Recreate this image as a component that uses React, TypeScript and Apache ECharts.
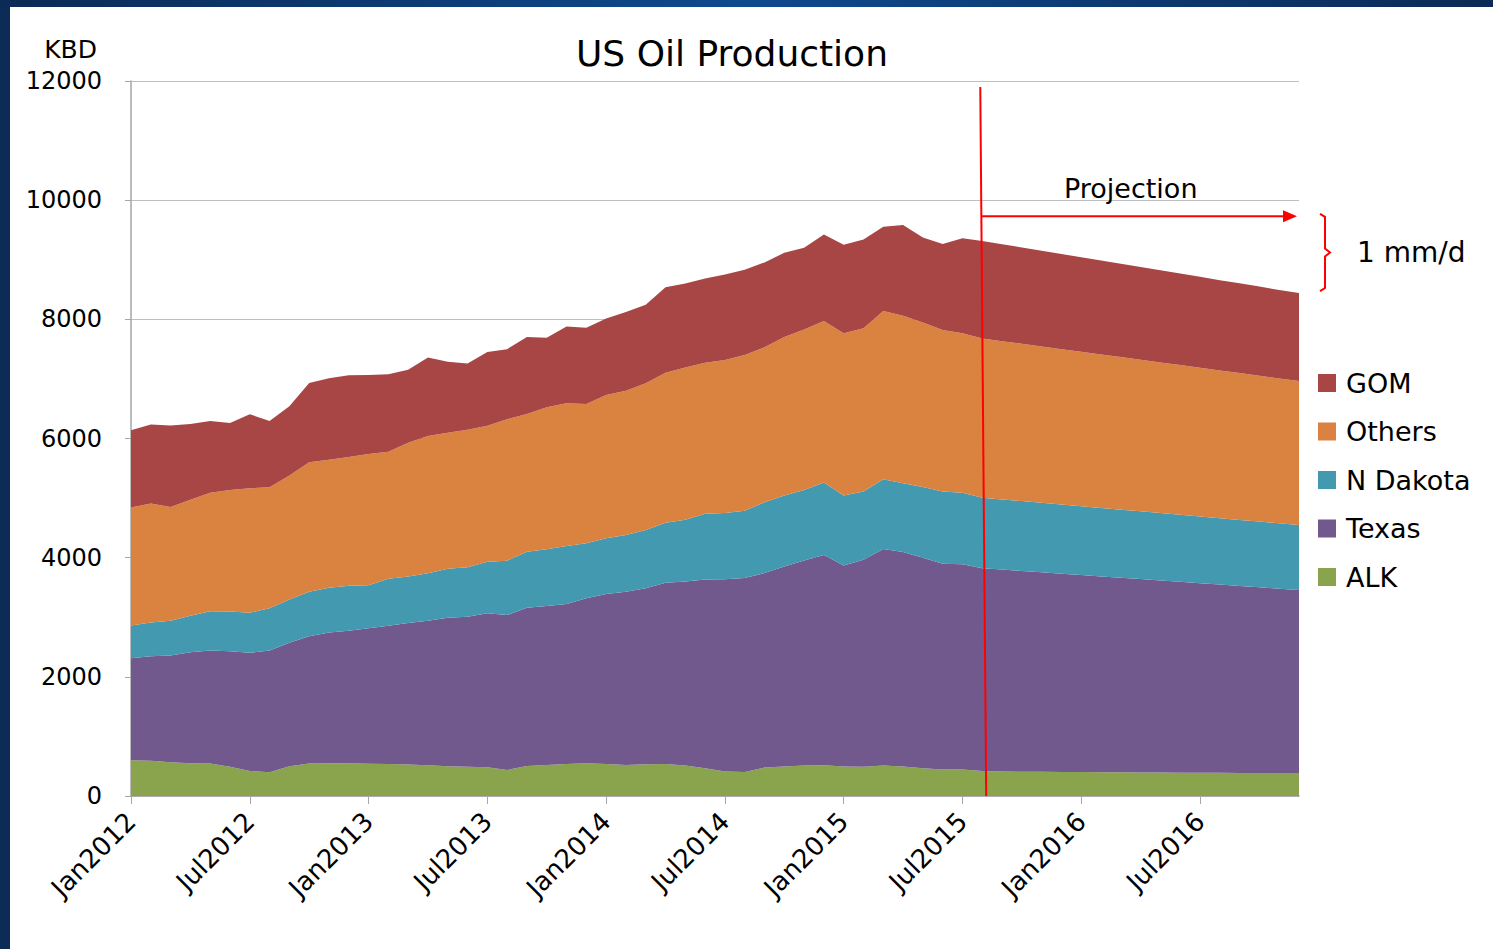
import React, { useEffect, useRef } from "react";
import * as echarts from "echarts";

const MONTH_NAMES = ["Jan", "Feb", "Mar", "Apr", "May", "Jun", "Jul", "Aug", "Sep", "Oct", "Nov", "Dec"];
const YEARS = [2012, 2013, 2014, 2015, 2016];
const categories: string[] = [];
YEARS.forEach((y) => MONTH_NAMES.forEach((m) => categories.push(m + y)));

// KBD, Jan2012 .. Dec2016 (projection from Aug2015)
const ALK = [
  600, 590, 568, 550, 545, 492, 420, 400, 500, 545, 550, 550,
  541, 535, 530, 518, 500, 490, 481, 436, 503, 520, 537, 548,
  537, 520, 531, 537, 512, 465, 413, 401, 478, 497, 510, 517,
  497, 490, 510, 497, 465, 445, 445, 420, 410, 408, 406, 404,
  402, 400, 398, 396, 394, 392, 390, 389, 388, 387, 386, 385,
];
const TEXAS = [
  1710, 1755, 1790, 1862, 1895, 1936, 1983, 2040, 2073, 2137, 2196, 2222,
  2274, 2324, 2373, 2422, 2492, 2520, 2585, 2602, 2658, 2669, 2685, 2770,
  2853, 2909, 2954, 3043, 3086, 3167, 3224, 3256, 3263, 3353, 3442, 3526,
  3372, 3476, 3636, 3597, 3533, 3455, 3444, 3403, 3390, 3369, 3348, 3327,
  3306, 3286, 3265, 3244, 3223, 3202, 3181, 3159, 3138, 3116, 3094, 3072,
];
const N_DAKOTA = [
  550, 565, 582, 613, 660, 668, 673, 710, 725, 748, 749, 758,
  721, 787, 782, 800, 824, 830, 867, 912, 940, 951, 974, 923,
  935, 951, 979, 1007, 1037, 1104, 1112, 1131, 1188, 1194, 1182, 1220,
  1175, 1143, 1168, 1156, 1188, 1209, 1200, 1183, 1177, 1172, 1166, 1161,
  1155, 1149, 1143, 1137, 1132, 1126, 1121, 1115, 1108, 1103, 1097, 1091,
];
const OTHERS = [
  1980, 2000, 1912, 1945, 1990, 2041, 2087, 2033, 2082, 2170, 2150, 2160,
  2202, 2132, 2245, 2300, 2281, 2305, 2282, 2372, 2310, 2383, 2394, 2338,
  2405, 2422, 2462, 2517, 2555, 2536, 2569, 2613, 2601, 2659, 2697, 2709,
  2723, 2742, 2826, 2812, 2761, 2710, 2678, 2672, 2656, 2640, 2624, 2608,
  2592, 2575, 2560, 2544, 2528, 2512, 2496, 2480, 2464, 2448, 2432, 2417,
];
const GOM = [
  1300, 1325, 1368, 1275, 1205, 1123, 1245, 1109, 1160, 1330, 1367, 1370,
  1328, 1300, 1225, 1320, 1193, 1115, 1235, 1178, 1294, 1167, 1290, 1281,
  1285, 1323, 1320, 1433, 1413, 1414, 1433, 1432, 1425, 1414, 1369, 1453,
  1484, 1490, 1413, 1523, 1426, 1445, 1593, 1637, 1627, 1617, 1607, 1596,
  1586, 1577, 1566, 1556, 1545, 1536, 1525, 1515, 1506, 1495, 1485, 1475,
];

const SERIES_NAMES = ["ALK", "Texas", "N Dakota", "Others", "GOM"];
const SERIES_DATA = [ALK, TEXAS, N_DAKOTA, OTHERS, GOM];
const SERIES_COLORS = ["#8aa44e", "#72598d", "#4399b0", "#da8340", "#a84646"];
const LEGEND_ORDER = ["GOM", "Others", "N Dakota", "Texas", "ALK"];

const Y_MIN = 0;
const Y_MAX = 12000;
const Y_STEP = 2000;

// annotation anchors (category index, value)
const PROJ_LINE = { topIdx: 42.9, topVal: 11900, botIdx: 43.2, botVal: 0 };
const PROJ_ARROW = { fromIdx: 42.95, toIdx: 58.9, val: 9730 };
const PROJ_TEXT = { idx: 50.5, val: 10190, text: "Projection" };
const BRACKET = { topVal: 9770, botVal: 8475, text: "1 mm/d" };

const FONT = "DejaVu Sans";

export default function App() {
  const ref = useRef<HTMLDivElement>(null);
  useEffect(() => {
    const chart = echarts.init(ref.current!, null, { renderer: "svg" });
    chart.setOption({
      animation: false,
      backgroundColor: "#ffffff",
      title: {
        text: "US Oil Production",
        left: 576,
        top: 35,
        padding: 0,
        textStyle: { fontFamily: FONT, fontSize: 36, fontWeight: "normal", color: "#000" },
      },
      grid: { left: 131, right: 194, top: 81, bottom: 153, containLabel: false },
      legend: {
        orient: "vertical",
        left: 1318,
        top: 368,
        padding: 0,
        data: LEGEND_ORDER,
        icon: "rect",
        itemWidth: 18,
        itemHeight: 18,
        itemGap: 18.5,
        textStyle: { fontFamily: FONT, fontSize: 27, color: "#000", lineHeight: 30, padding: [0, 0, 0, 5] },
      },
      xAxis: {
        type: "category",
        data: categories,
        boundaryGap: false,
        axisLine: { lineStyle: { color: "#a6a6a6", width: 1.5 } },
        axisTick: { show: true, interval: 5, length: 8, lineStyle: { color: "#a6a6a6" } },
        axisLabel: {
          interval: 5,
          rotate: 45,
          margin: 21,
          fontFamily: FONT,
          fontSize: 26,
          color: "#000",
        },
        splitLine: { show: false },
      },
      yAxis: {
        type: "value",
        min: Y_MIN,
        max: Y_MAX,
        interval: Y_STEP,
        name: "KBD",
        nameLocation: "end",
        nameGap: 32,
        nameTextStyle: { fontFamily: FONT, fontSize: 25, color: "#000", align: "right", verticalAlign: "middle", padding: [0, 34, 0, 0] },
        axisLine: { show: true, lineStyle: { color: "#a6a6a6", width: 1.5 } },
        axisTick: { show: true, length: 6, lineStyle: { color: "#a6a6a6" } },
        axisLabel: { margin: 29, fontFamily: FONT, fontSize: 24, color: "#000", formatter: (v: number) => String(v) },
        splitLine: { show: true, lineStyle: { color: "#bfbfbf", width: 1 } },
      },
      series: SERIES_NAMES.map((name, k) => ({
        name,
        type: "line",
        stack: "total",
        data: SERIES_DATA[k],
        symbol: "none",
        lineStyle: { width: 0 },
        itemStyle: { color: SERIES_COLORS[k] },
        areaStyle: { color: SERIES_COLORS[k], opacity: 1 },
      })),
    });

    const p0 = chart.convertToPixel({ gridIndex: 0 }, [0, 0]) as number[];
    const p59 = chart.convertToPixel({ gridIndex: 0 }, [59, 0]) as number[];
    const step = (p59[0] - p0[0]) / 59;
    const X = (i: number) => p0[0] + i * step;
    const Y = (v: number) => (chart.convertToPixel({ yAxisIndex: 0 }, v) as number);
    const gridRight = p59[0];

    const red = "#ff0000";
    const ay = Y(PROJ_ARROW.val);
    const ax2 = X(PROJ_ARROW.toIdx);
    const bt = Y(BRACKET.topVal);
    const bb = Y(BRACKET.botVal);
    const bm = (bt + bb) / 2;
    const bx = gridRight + 21;

    chart.setOption({
      graphic: [
        {
          type: "rect",
          shape: { x: 0, y: 0, width: 10, height: 949 },
          style: { fill: "#0c2b57" },
          silent: true,
          z: 100,
        },
        {
          type: "rect",
          shape: { x: 0, y: 0, width: 1493, height: 7 },
          style: {
            fill: new echarts.graphic.LinearGradient(0, 0, 1, 0, [
              { offset: 0, color: "#0b2a55" },
              { offset: 0.5, color: "#0f4a8e" },
              { offset: 1, color: "#0b2a55" },
            ]),
          },
          silent: true,
          z: 100,
        },
        {
          type: "line",
          shape: { x1: X(PROJ_LINE.topIdx), y1: Y(PROJ_LINE.topVal), x2: X(PROJ_LINE.botIdx), y2: Y(PROJ_LINE.botVal) },
          style: { stroke: red, lineWidth: 2 },
          z: 50,
        },
        {
          type: "line",
          shape: { x1: X(PROJ_ARROW.fromIdx), y1: ay, x2: ax2 - 10, y2: ay },
          style: { stroke: red, lineWidth: 2 },
          z: 50,
        },
        {
          type: "polygon",
          shape: { points: [[ax2 - 14, ay - 6], [ax2, ay], [ax2 - 14, ay + 6]] },
          style: { fill: red },
          z: 50,
        },
        {
          type: "text",
          x: X(PROJ_TEXT.idx),
          y: Y(PROJ_TEXT.val),
          style: { text: PROJ_TEXT.text, fontFamily: FONT, fontSize: 27, fill: "#000", align: "center", verticalAlign: "middle" },
          z: 50,
        },
        {
          type: "polyline",
          shape: {
            points: [
              [bx, bt], [bx + 5, bt + 3], [bx + 5, bm - 4], [bx + 10, bm], [bx + 5, bm + 4], [bx + 5, bb - 3], [bx, bb],
            ],
          },
          style: { stroke: red, lineWidth: 2, fill: "none" },
          z: 50,
        },
        {
          type: "text",
          x: bx + 37,
          y: bm,
          style: { text: BRACKET.text, fontFamily: FONT, fontSize: 28, fill: "#000", align: "left", verticalAlign: "middle" },
          z: 50,
        },
      ],
    });

    return () => chart.dispose();
  }, []);
  return <div ref={ref} style={{ position: "fixed", left: 0, top: 0, width: 1493, height: 949 }} />;
}
